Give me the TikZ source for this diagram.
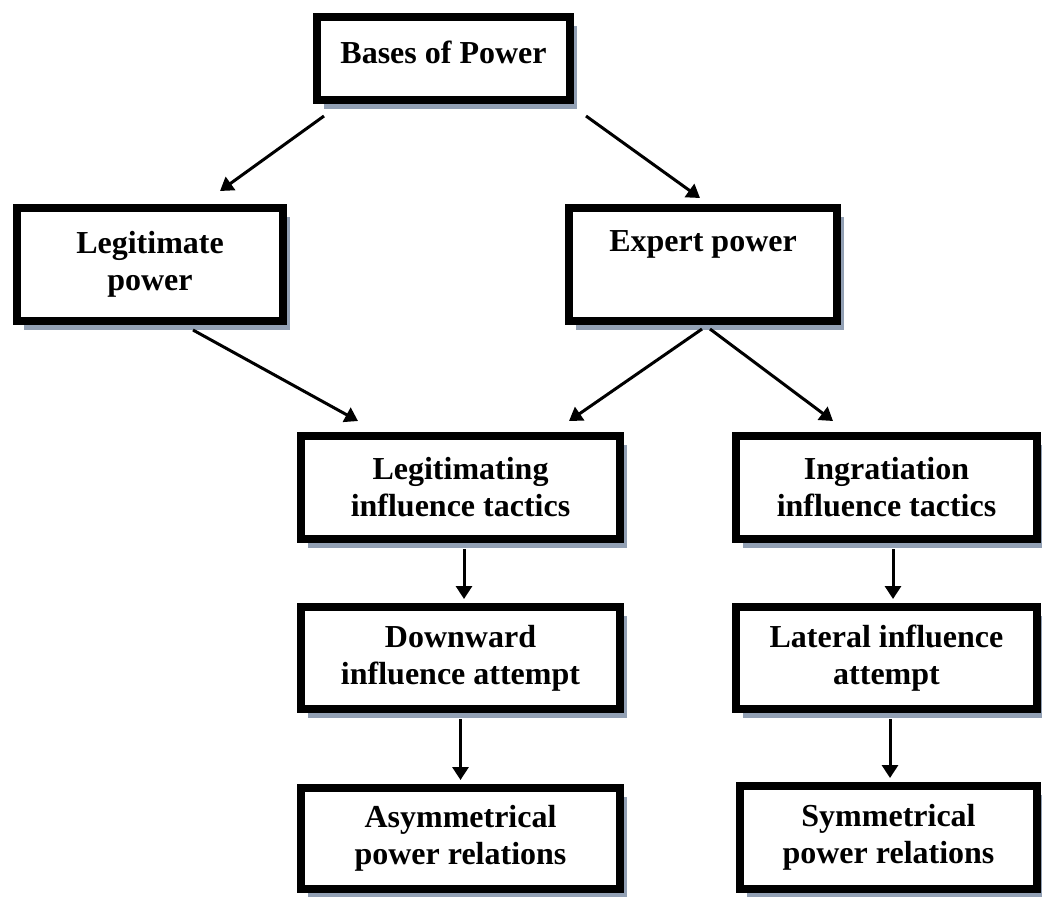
\documentclass[tikz,border=0pt]{standalone}
\usepackage{fontspec}
\setmainfont{Liberation Serif}
\usetikzlibrary{arrows.meta,shadows}
\definecolor{shadowblue}{RGB}{146,160,180}
\begin{document}
\begin{tikzpicture}[x=0.5pt,y=-0.5pt,font={\fontsize{16}{18.5}\selectfont\bfseries},
  box/.style={draw,line width=4pt,fill=white,inner sep=0pt,align=center,
    drop shadow={shadow xshift=3.5pt,shadow yshift=-4.5pt,fill=shadowblue,opacity=1}},
  arr/.style={line width=1.5pt,-{Triangle[length=6.5pt,width=8pt]}}]
\useasboundingbox(0,0)rectangle(1042,896);
\node[box,minimum width=126.5pt,minimum height=41.5pt,text depth=6.5pt](bases)at(443.5,58.5){Bases of Power};
\node[box,minimum width=133pt,minimum height=56.5pt](legit)at(150,264.5){Legitimate\\power};
\node[box,minimum width=134pt,minimum height=56.5pt,text depth=23.5pt](expert)at(703,264.5){Expert power};
\node[box,minimum width=159.5pt,minimum height=51.5pt](legtac)at(460.5,487.5){Legitimating\\influence tactics};
\node[box,minimum width=150.5pt,minimum height=51.5pt](ingtac)at(886.5,487.5){Ingratiation\\influence tactics};
\node[box,minimum width=159.5pt,minimum height=51pt](down)at(460.5,658){Downward\\influence attempt};
\node[box,minimum width=150.5pt,minimum height=51pt](lateral)at(886.5,658){Lateral influence\\attempt};
\node[box,minimum width=159.5pt,minimum height=50.5pt](asym)at(460.5,838.5){Asymmetrical\\power relations};
\node[box,minimum width=148.5pt,minimum height=51.5pt](sym)at(888.5,837.5){Symmetrical\\power relations};
% diagonal arrows
\draw[arr]([xshift=5.5pt,yshift=-6pt]bases.south west)--([xshift=35pt,yshift=6.5pt]legit.north);
\draw[arr]([xshift=6pt,yshift=-6pt]bases.south east)--([xshift=-1.5pt,yshift=3pt]expert.north);
\draw[arr]([xshift=21.5pt,yshift=-2.5pt]legit.south)--([xshift=-51.25pt,yshift=5.5pt]legtac.north);
\draw[arr]([xshift=-0.5pt,yshift=-2pt]expert.south)--([xshift=54.25pt,yshift=5.5pt]legtac.north);
\draw[arr]([xshift=3.5pt,yshift=-2pt]expert.south)--([xshift=-26.75pt,yshift=5.5pt]ingtac.north);
% vertical arrows
\foreach \a/\b/\s/\t in {legtac/down/1.75pt/1.75pt,down/asym/0pt/0pt,ingtac/lateral/3.25pt/3.25pt,lateral/sym/1.75pt/0.75pt}
  \draw[arr]([xshift=\s,yshift=-3pt]\a.south)--([xshift=\t,yshift=2pt]\b.north);
\end{tikzpicture}
\end{document}
